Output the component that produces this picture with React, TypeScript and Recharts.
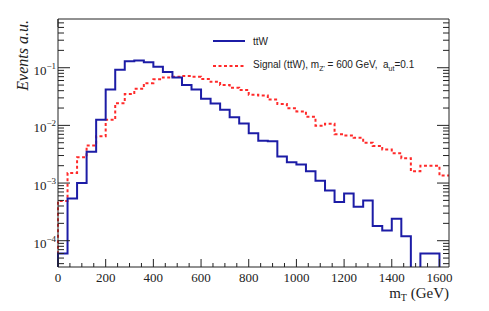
import { LineChart, Line, XAxis, YAxis } from "recharts";

// lower edges of the 40 GeV bins
const BIN_LOW = [
  0, 40, 80, 120, 160, 200, 240, 280, 320, 360, 400, 440, 480, 520, 560, 600,
  640, 680, 720, 760, 800, 840, 880, 920, 960, 1000, 1040, 1080, 1120, 1160,
  1200, 1240, 1280, 1320, 1360, 1400, 1440, 1480, 1520, 1560, 1600,
];
const X_MAX = 1640;

// ttW background (0 = empty bin)
const TTW = [
  6e-5, 5.4e-4, 1.0e-3, 3.5e-3, 0.0125, 0.042, 0.092, 0.129, 0.133, 0.124,
  0.104, 0.084, 0.068, 0.05, 0.042, 0.029, 0.024, 0.0186, 0.0139, 0.0108,
  0.0073, 0.0054, 0.0053, 0.0029, 0.0023, 0.0021, 0.0016, 0.0011, 7.4e-4,
  4.7e-4, 6.6e-4, 3.9e-4, 5.0e-4, 1.8e-4, 1.5e-4, 2.4e-4, 1.2e-4, 0, 6e-5,
  6e-5, 0,
];

// signal (ttW), mZ' = 600 GeV
const SIGNAL = [
  4.9e-4, 1.5e-3, 2.8e-3, 4.5e-3, 6.5e-3, 0.0125, 0.0243, 0.035, 0.043, 0.054,
  0.063, 0.068, 0.07, 0.072, 0.07, 0.064, 0.057, 0.05, 0.045, 0.041, 0.034,
  0.033, 0.028, 0.0235, 0.0198, 0.0175, 0.0141, 0.0099, 0.0107, 0.007, 0.0067,
  0.0061, 0.005, 0.0044, 0.0038, 0.0033, 0.0027, 0.0016, 0.002, 0.002, 0.00135,
];

const Y_DOMAIN: [number, number] = [3.5e-5, 0.7];
const Y_DECADES = [1e-5, 1e-4, 1e-3, 1e-2, 1e-1];
const Y_LABELS: Record<string, string> = {
  "-4": "−4",
  "-3": "−3",
  "-2": "−2",
  "-1": "−1",
};
const X_LABELS = [0, 200, 400, 600, 800, 1000, 1200, 1400, 1600];
const X_MINOR_STEP = 50;

const FLOOR = 1e-7; // empty bins drop below the frame

const yTicks: number[] = [];
Y_DECADES.forEach((d) => {
  for (let m = 1; m <= 9; m++) {
    const v = d * m;
    if (v >= Y_DOMAIN[0] && v <= Y_DOMAIN[1]) yTicks.push(v);
  }
});
const xTicks: number[] = [];
for (let v = 0; v <= 1600; v += X_MINOR_STEP) xTicks.push(v);

const last = BIN_LOW.length - 1;
const rows = [
  { x: 0, ttw: FLOOR, sig: FLOOR },
  ...BIN_LOW.map((x, i) => ({
    x,
    ttw: Math.max(TTW[i], FLOOR),
    sig: Math.max(SIGNAL[i], FLOOR),
  })),
  { x: X_MAX, ttw: Math.max(TTW[last], FLOOR), sig: Math.max(SIGNAL[last], FLOOR) },
];

const FRAME = "#222";
const SERIF = "'Liberation Serif', 'Times New Roman', serif";
const SANS = "'Liberation Sans', Arial, sans-serif";

function isDecade(v: number) {
  const lg = Math.log10(v);
  return Math.abs(lg - Math.round(lg)) < 1e-6;
}

function LeftTick(props: any) {
  const { x, y, payload } = props;
  const major = isDecade(payload.value);
  const exp = String(Math.round(Math.log10(payload.value)));
  return (
    <g>
      <line x1={x} x2={x + (major ? 12 : 6)} y1={y} y2={y} stroke={FRAME} />
      {major && (
        <text x={x - 2} y={y + 7} textAnchor="end" fontFamily={SERIF} fontSize={13} fill="#222">
          10
          <tspan dy={-6} fontSize={9}>
            {Y_LABELS[exp]}
          </tspan>
        </text>
      )}
    </g>
  );
}

function RightTick(props: any) {
  const { x, y, payload } = props;
  const major = isDecade(payload.value);
  return <line x1={x} x2={x - (major ? 12 : 6)} y1={y} y2={y} stroke={FRAME} />;
}

function BottomTick(props: any) {
  const { x, y, payload } = props;
  const major = X_LABELS.includes(payload.value);
  return (
    <g>
      <line x1={x} x2={x} y1={y} y2={y - (major ? 8 : 4)} stroke={FRAME} />
      {major && (
        <text x={x} y={y + 15} textAnchor="middle" fontFamily={SERIF} fontSize={13} fill="#222">
          {payload.value}
        </text>
      )}
    </g>
  );
}

function TopTick(props: any) {
  const { x, y, payload } = props;
  const major = X_LABELS.includes(payload.value);
  return <line x1={x} x2={x} y1={y} y2={y + (major ? 8 : 4)} stroke={FRAME} />;
}

export default function App() {
  return (
    <div style={{ position: "absolute", left: 0, top: 0, width: 489, height: 311, background: "#fff" }}>
      <LineChart width={489} height={311} data={rows} margin={{ top: 0, right: 0, bottom: 0, left: 0 }}>
        <XAxis
          dataKey="x"
          type="number"
          domain={[0, X_MAX]}
          ticks={xTicks}
          interval={0}
          height={44}
          tickSize={0}
          tickMargin={0}
          axisLine={{ stroke: FRAME }}
          tickLine={false}
          tick={(p: any) => <BottomTick {...p} />}
        />
        <XAxis
          xAxisId="top"
          orientation="top"
          type="number"
          domain={[0, X_MAX]}
          ticks={xTicks}
          interval={0}
          height={19}
          tickSize={0}
          tickMargin={0}
          axisLine={{ stroke: FRAME }}
          tickLine={false}
          tick={(p: any) => <TopTick {...p} />}
        />
        <YAxis
          type="number"
          scale="log"
          domain={Y_DOMAIN}
          allowDataOverflow
          ticks={yTicks}
          interval={0}
          width={58}
          tickSize={0}
          tickMargin={0}
          axisLine={{ stroke: FRAME }}
          tickLine={false}
          tick={(p: any) => <LeftTick {...p} />}
        />
        <YAxis
          yAxisId="right"
          orientation="right"
          type="number"
          scale="log"
          domain={Y_DOMAIN}
          allowDataOverflow
          ticks={yTicks}
          interval={0}
          width={40}
          tickSize={0}
          tickMargin={0}
          axisLine={{ stroke: FRAME }}
          tickLine={false}
          tick={(p: any) => <RightTick {...p} />}
        />
        <Line
          type="stepAfter"
          dataKey="sig"
          stroke="#ff2a2a"
          strokeWidth={2}
          strokeDasharray="3 2.5"
          dot={false}
          activeDot={false}
          isAnimationActive={false}
        />
        <Line
          type="stepAfter"
          dataKey="ttw"
          stroke="#1c1ca6"
          strokeWidth={2}
          dot={false}
          activeDot={false}
          isAnimationActive={false}
        />
      </LineChart>
      <svg
        width={489}
        height={311}
        style={{ position: "absolute", left: 0, top: 0, pointerEvents: "none" }}
      >
        <text
          transform="translate(28,20) rotate(-90)"
          textAnchor="end"
          fontFamily={SERIF}
          fontStyle="italic"
          fontSize={16}
          fill="#222"
        >
          Events a.u.
        </text>
        <text x={449} y={298} textAnchor="end" fontFamily={SERIF} fontSize={15} fill="#222">
          m
          <tspan dy={3} fontSize={10}>
            T
          </tspan>
          <tspan dy={-3}>{"\u00a0(GeV)"}</tspan>
        </text>
        <line x1={213} x2={245} y1={41} y2={41} stroke="#1c1ca6" strokeWidth={2} />
        <text x={253} y={45} fontFamily={SANS} fontSize={10} fill="#222">
          ttW
        </text>
        <line x1={213} x2={245} y1={66} y2={66} stroke="#ff2a2a" strokeWidth={2} strokeDasharray="3 2.5" />
        <text x={253} y={68} fontFamily={SANS} fontSize={10} fill="#222">
          Signal (ttW), m
          <tspan dy={3} fontSize={7}>
            Z'
          </tspan>
          <tspan dy={-3}>{"\u00a0= 600 GeV,\u00a0\u00a0a"}</tspan>
          <tspan dy={3} fontSize={7}>
            ut
          </tspan>
          <tspan dy={-3}>=0.1</tspan>
        </text>
      </svg>
    </div>
  );
}
